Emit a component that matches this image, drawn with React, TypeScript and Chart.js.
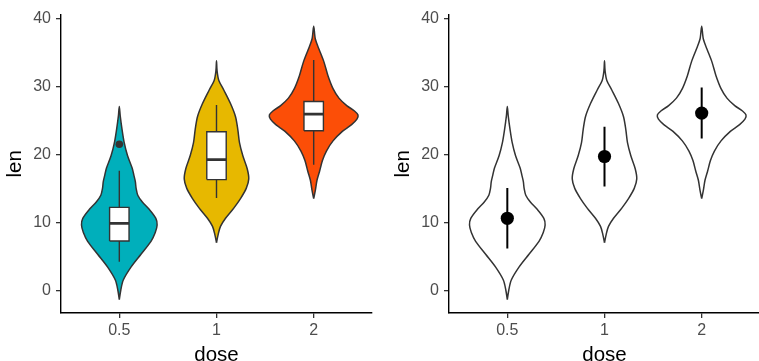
import React, { useEffect, useRef } from 'react';
import { Chart, registerables } from 'chart.js';

Chart.register(...registerables);

// ---- data ----
const doses = ['0.5', '1', '2'];
const xPositions = [1, 2, 3];
const yTicks = [0, 10, 20, 30, 40];
const fillColors = ['#00AFBB', '#E7B800', '#FC4E07'];

// violin outlines: len levels and half-widths (category units)
const violin05Len = [-1.4, 0, 1.5, 3.4, 5.3, 7.2, 8.5, 9.6, 10.6, 12, 13, 14, 15, 16, 17, 18, 19.8, 21.7, 23.7, 25.6, 27.05];
const violin05Half = [0, 0.015, 0.041, 0.12, 0.223, 0.326, 0.37, 0.389, 0.376, 0.303, 0.237, 0.19, 0.173, 0.165, 0.149, 0.132, 0.085, 0.051, 0.028, 0.01, 0];
const violin1Len = [7.0, 8.2, 9.4, 10.6, 12.1, 13.5, 15.0, 16.4, 17.9, 19.8, 21.7, 23.7, 25.6, 27.5, 29.5, 30.9, 32.3, 33.8];
const violin1Half = [0, 0.017, 0.041, 0.093, 0.178, 0.247, 0.306, 0.332, 0.316, 0.271, 0.237, 0.219, 0.195, 0.144, 0.075, 0.024, 0.006, 0];
const violin2Len = [13.5, 14.7, 16.2, 17.6, 19.1, 20.5, 22.0, 23.4, 24.4, 25.2, 25.8, 26.4, 27.2, 28.3, 29.7, 31.6, 33.6, 35.5, 37.0, 38.9];
const violin2Half = [0, 0.017, 0.034, 0.062, 0.09, 0.131, 0.199, 0.295, 0.39, 0.445, 0.456, 0.42, 0.34, 0.26, 0.199, 0.147, 0.106, 0.055, 0.017, 0];

// box plot statistics
const boxQ1 = [7.25, 16.3, 23.5];
const boxMedian = [9.85, 19.25, 25.95];
const boxQ3 = [12.2, 23.35, 27.8];
const whiskerLow = [4.2, 13.6, 18.5];
const whiskerHigh = [17.6, 27.3, 33.9];
const outlierX = [1];
const outlierLen = [21.5];

// mean +/- sd
const meanLen = [10.6, 19.7, 26.1];
const sdLen = [4.45, 4.4, 3.75];

const violinLens = [violin05Len, violin1Len, violin2Len];
const violinHalves = [violin05Half, violin1Half, violin2Half];

const BOX_HALF = 0.1;

function violinOutline(i: number) {
  const cx = xPositions[i];
  const lens = violinLens[i];
  const halves = violinHalves[i];
  const right = lens.map((y, k) => ({ x: cx + halves[k], y }));
  const left = lens.map((y, k) => ({ x: cx - halves[k], y })).reverse();
  const pts = [...right, ...left.slice(1)];
  pts.push({ ...pts[0] });
  return pts;
}

function buildDatasets(variant: 'box' | 'meansd') {
  const ds: any[] = [];
  xPositions.forEach((cx, i) => {
    ds.push({
      type: 'line',
      data: violinOutline(i),
      borderColor: '#333333',
      borderWidth: 1.5,
      backgroundColor: variant === 'box' ? fillColors[i] : '#ffffff',
      fill: 'shape',
      pointRadius: 0,
      tension: 0.3,
      order: 10,
    });
    if (variant === 'box') {
      ds.push({
        type: 'line',
        data: [{ x: cx, y: whiskerLow[i] }, { x: cx, y: whiskerHigh[i] }],
        borderColor: '#333333',
        borderWidth: 1.4,
        pointRadius: 0,
        fill: false,
        order: 9,
      });
      ds.push({
        type: 'line',
        data: [
          { x: cx - BOX_HALF, y: boxQ1[i] },
          { x: cx + BOX_HALF, y: boxQ1[i] },
          { x: cx + BOX_HALF, y: boxQ3[i] },
          { x: cx - BOX_HALF, y: boxQ3[i] },
          { x: cx - BOX_HALF, y: boxQ1[i] },
        ],
        borderColor: '#333333',
        borderWidth: 1.4,
        backgroundColor: '#ffffff',
        fill: 'shape',
        pointRadius: 0,
        tension: 0,
        order: 8,
      });
      ds.push({
        type: 'line',
        data: [{ x: cx - BOX_HALF, y: boxMedian[i] }, { x: cx + BOX_HALF, y: boxMedian[i] }],
        borderColor: '#333333',
        borderWidth: 2.8,
        pointRadius: 0,
        fill: false,
        order: 7,
      });
    } else {
      ds.push({
        type: 'line',
        data: [{ x: cx, y: meanLen[i] - sdLen[i] }, { x: cx, y: meanLen[i] + sdLen[i] }],
        borderColor: '#000000',
        borderWidth: 2,
        pointRadius: 0,
        fill: false,
        order: 5,
      });
    }
  });
  if (variant === 'box') {
    ds.push({
      type: 'scatter',
      data: outlierX.map((x, k) => ({ x, y: outlierLen[k] })),
      pointRadius: 3.8,
      backgroundColor: '#333333',
      borderWidth: 0,
      order: 1,
    });
  } else {
    ds.push({
      type: 'scatter',
      data: xPositions.map((x, k) => ({ x, y: meanLen[k] })),
      pointRadius: 6.6,
      backgroundColor: '#000000',
      borderWidth: 0,
      order: 1,
    });
  }
  return ds;
}

const FONT = "'Liberation Sans', Arial, sans-serif";

function makeConfig(variant: 'box' | 'meansd'): any {
  return {
    type: 'line',
    data: { datasets: buildDatasets(variant) },
    options: {
      responsive: false,
      animation: false,
      devicePixelRatio: 1,
      layout: { padding: { top: 10, right: 8, left: 0, bottom: 0 } },
      plugins: { legend: { display: false }, tooltip: { enabled: false } },
      events: [],
      scales: {
        x: {
          type: 'linear',
          min: 0.4,
          max: 3.6,
          afterBuildTicks: (s: any) => {
            s.ticks = xPositions.map((v) => ({ value: v }));
          },
          afterFit: (s: any) => {
            s.height = 59;
          },
          ticks: {
            callback: (_v: any, i: number) => doses[i],
            font: { family: FONT, size: 16 },
            color: '#4D4D4D',
            padding: 3,
            maxRotation: 0,
            autoSkip: false,
          },
          grid: { display: true, drawOnChartArea: false, drawTicks: true, tickLength: 5, color: '#333333', lineWidth: 1.3 },
          border: { display: true, color: '#000000', width: 1.4 },
          title: { display: true, text: 'dose', font: { family: FONT, size: 20.5 }, color: '#000000', padding: { top: 0, bottom: 4 } },
        },
        y: {
          type: 'linear',
          min: -3.35,
          max: 40.6,
          afterBuildTicks: (s: any) => {
            s.ticks = yTicks.map((v) => ({ value: v }));
          },
          afterFit: (s: any) => {
            s.width = 61;
          },
          ticks: {
            font: { family: FONT, size: 16 },
            color: '#4D4D4D',
            padding: 5,
          },
          grid: { display: true, drawOnChartArea: false, drawTicks: true, tickLength: 5, color: '#333333', lineWidth: 1.3 },
          border: { display: true, color: '#000000', width: 1.4 },
          title: { display: true, text: 'len', font: { family: FONT, size: 20.5 }, color: '#000000', padding: { top: 3, bottom: 0 } },
        },
      },
    },
  };
}

function Panel({ variant, left }: { variant: 'box' | 'meansd'; left: number }) {
  const ref = useRef<HTMLCanvasElement | null>(null);
  useEffect(() => {
    if (!ref.current) return;
    const chart = new Chart(ref.current, makeConfig(variant));
    return () => chart.destroy();
  }, [variant]);
  return (
    <div style={{ position: 'absolute', left, top: 0, width: 380, height: 372 }}>
      <canvas ref={ref} width={380} height={372} style={{ display: 'block' }} />
    </div>
  );
}

export default function App() {
  return (
    <div
      style={{
        position: 'fixed',
        left: 0,
        top: 0,
        width: 759,
        height: 361,
        overflow: 'hidden',
        background: '#ffffff',
      }}
    >
      <Panel variant="box" left={0} />
      <Panel variant="meansd" left={388} />
    </div>
  );
}
